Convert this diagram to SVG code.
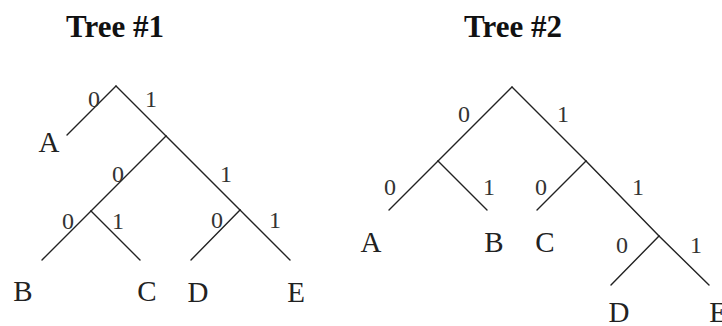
<svg xmlns="http://www.w3.org/2000/svg" width="722" height="326" viewBox="0 0 722 326">
<style>
.t{font-family:"Liberation Serif","Times New Roman",serif;font-weight:bold;font-size:31px;fill:#111;text-anchor:middle}
.l{font-family:"Liberation Serif","Times New Roman",serif;font-size:29px;fill:#222;text-anchor:middle}
.d{font-family:"Liberation Serif","Times New Roman",serif;font-size:24px;fill:#333;text-anchor:middle}
.e{stroke:#222;stroke-width:1.4;fill:none;stroke-linecap:round}
</style>
<rect width="722" height="326" fill="#fff"/>
<g id="tree1">
<text class="t" x="115" y="37">Tree #1</text>
<g id="connectors1">
<line class="e" x1="116" y1="86" x2="67" y2="135"/>
<line class="e" x1="116" y1="86" x2="166" y2="136"/>
<line class="e" x1="166" y1="136" x2="91" y2="211"/>
<line class="e" x1="166" y1="136" x2="240" y2="210"/>
<line class="e" x1="91" y1="211" x2="42" y2="260"/>
<line class="e" x1="91" y1="211" x2="140" y2="260"/>
<line class="e" x1="240" y1="210" x2="191" y2="260"/>
<line class="e" x1="240" y1="210" x2="290" y2="260"/>
</g>
<g id="t1-edge-labels">
<text class="d" x="94" y="107">0</text>
<text class="d" x="151" y="107">1</text>
<text class="d" x="118" y="182">0</text>
<text class="d" x="226" y="182">1</text>
<text class="d" x="68" y="229">0</text>
<text class="d" x="118" y="229">1</text>
<text class="d" x="217" y="228">0</text>
<text class="d" x="275" y="228">1</text>
</g>
<g id="t1-A"><text class="l" x="49" y="152">A</text></g>
<g id="t1-B"><text class="l" x="23" y="301">B</text></g>
<g id="t1-C"><text class="l" x="147" y="301">C</text></g>
<g id="t1-D"><text class="l" x="198" y="302">D</text></g>
<g id="t1-E"><text class="l" x="296" y="302">E</text></g>
</g>
<g id="tree2">
<text class="t" x="513" y="37">Tree #2</text>
<g id="connectors2">
<line class="e" x1="512" y1="87" x2="438" y2="161"/>
<line class="e" x1="512" y1="87" x2="586" y2="161"/>
<line class="e" x1="438" y1="161" x2="389" y2="210"/>
<line class="e" x1="438" y1="161" x2="487" y2="210"/>
<line class="e" x1="586" y1="161" x2="537" y2="210"/>
<line class="e" x1="586" y1="161" x2="659" y2="236"/>
<line class="e" x1="659" y1="236" x2="611" y2="285"/>
<line class="e" x1="659" y1="236" x2="709" y2="285"/>
</g>
<g id="t2-edge-labels">
<text class="d" x="464" y="122">0</text>
<text class="d" x="563" y="122">1</text>
<text class="d" x="390" y="195">0</text>
<text class="d" x="489" y="195">1</text>
<text class="d" x="541" y="195">0</text>
<text class="d" x="638" y="195">1</text>
<text class="d" x="622" y="253">0</text>
<text class="d" x="696" y="253">1</text>
</g>
<g id="t2-A"><text class="l" x="371" y="252">A</text></g>
<g id="t2-B"><text class="l" x="494" y="252">B</text></g>
<g id="t2-C"><text class="l" x="545" y="252">C</text></g>
<g id="t2-D"><text class="l" x="619" y="322">D</text></g>
<g id="t2-E"><text class="l" x="718" y="322">E</text></g>
</g>
</svg>
